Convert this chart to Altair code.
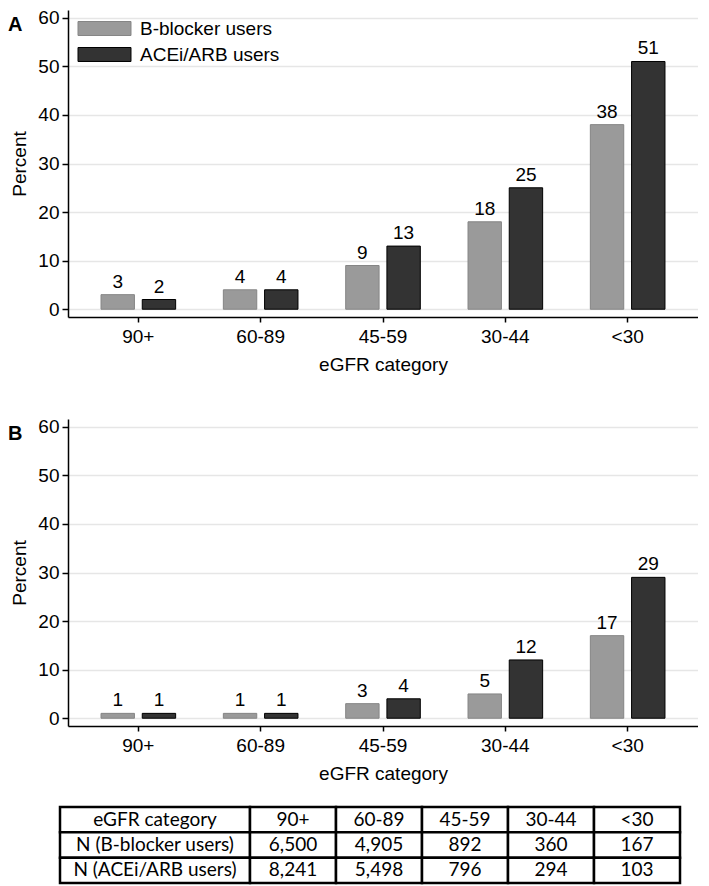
import altair as alt
import pandas as pd

categories = ["90+", "60-89", "45-59", "30-44", "<30"]
series = ["B-blocker users", "ACEi/ARB users"]
a_bblocker = [3, 4, 9, 18, 38]
a_acei = [2, 4, 13, 25, 51]
b_bblocker = [1, 1, 3, 5, 17]
b_acei = [1, 1, 4, 12, 29]
y_ticks = [0, 10, 20, 30, 40, 50, 60]
table_rows = ["eGFR category", "N (B-blocker users)", "N (ACEi/ARB users)"]
n_bblocker = ["6,500", "4,905", "892", "360", "167"]
n_acei = ["8,241", "5,498", "796", "294", "103"]

FONT = "Liberation Sans"
TFONT = "Lato"
W, H = 630, 307
GRAY, DARK = "#9a9a9a", "#333333"
SWATCH = "M-2.5,-0.66L2.5,-0.66L2.5,0.66L-2.5,0.66Z"


def panel(letter, bb, ace):
    df = pd.DataFrame({
        "cat": categories + categories,
        "series": [series[0]] * len(categories) + [series[1]] * len(categories),
        "value": bb + ace,
    })
    x = alt.X("cat:N", sort=categories, title="eGFR category",
              scale=alt.Scale(paddingInner=0.39, paddingOuter=0.27),
              axis=alt.Axis(labelAngle=0, tickSize=5, labelPadding=5,
                            titlePadding=9, grid=False))
    xo = alt.XOffset("series:N", sort=series,
                     scale=alt.Scale(paddingInner=0.19, paddingOuter=0))
    y = alt.Y("value:Q", title="Percent",
              scale=alt.Scale(domain=[-1.6, 61.6], nice=False, zero=False),
              axis=alt.Axis(values=y_ticks, tickSize=6, labelPadding=3,
                            titlePadding=8, grid=True))
    base = alt.Chart(df).encode(x=x, xOffset=xo, y=y)
    bars = base.mark_bar(strokeWidth=1).encode(
        y2=alt.datum(0),
        fill=alt.Fill("series:N", sort=series,
                      scale=alt.Scale(domain=series, range=[GRAY, DARK]),
                      legend=alt.Legend(title=None, orient="none", legendX=25,
                                        legendY=7, padding=0,
                                        symbolType=SWATCH, symbolSize=449,
                                        symbolStrokeWidth=1, rowPadding=4,
                                        labelOffset=24, labelFontSize=19,
                                        labelFont=FONT, labelColor="black")),
        stroke=alt.Stroke("series:N", sort=series,
                          scale=alt.Scale(domain=series, range=["#858585", "#000000"]),
                          legend=None),
    )
    labels = base.mark_text(baseline="bottom", dy=-3, fontSize=19, font=FONT,
                            color="black").encode(text="value:Q")
    tag = alt.Chart(pd.DataFrame({"t": [letter]})).mark_text(
        align="left", baseline="top", fontSize=20, fontWeight="bold",
        font=FONT, color="black").encode(text="t:N", x=alt.value(-60), y=alt.value(5))
    return alt.layer(bars, labels, tag).properties(width=W, height=H)


label_df = pd.DataFrame({"col": ["label"] * 3, "row": table_rows, "text": table_rows})
value_df = pd.DataFrame({
    "col": categories * 3,
    "row": [table_rows[0]] * 5 + [table_rows[1]] * 5 + [table_rows[2]] * 5,
    "text": categories + n_bblocker + n_acei,
})

T_LEFT, T_LABEL_W, T_VALUE_W, T_H = -8, 190, 430, 76
row_y = alt.Y("row:N", sort=table_rows, axis=None,
              scale=alt.Scale(paddingInner=0, paddingOuter=0))


def table_layers(df, sort, x0, x1):
    base = alt.Chart(df).encode(
        x=alt.X("col:N", sort=sort, axis=None,
                scale=alt.Scale(paddingInner=0, paddingOuter=0, range=[x0, x1])),
        y=row_y,
    )
    rect = base.mark_rect(fill="white", stroke="black", strokeWidth=2.5)
    txt = base.mark_text(font=TFONT, fontSize=19, color="black").encode(text="text:N")
    return alt.layer(rect, txt)


table = alt.layer(
    table_layers(label_df, ["label"], T_LEFT, T_LEFT + T_LABEL_W),
    table_layers(value_df, categories, T_LEFT + T_LABEL_W, T_LEFT + T_LABEL_W + T_VALUE_W),
).resolve_scale(x="independent").properties(
    width=T_LEFT + T_LABEL_W + T_VALUE_W, height=T_H)

panels = alt.vconcat(panel("A", a_bblocker, a_acei), panel("B", b_bblocker, b_acei),
                     spacing=43)

chart = alt.vconcat(panels, table, spacing=22).properties(
    padding=0, background="white"
).configure_view(stroke=None).configure_axis(
    domainColor="black", domainWidth=1.5, tickColor="black", tickWidth=1.5,
    labelFont=FONT, labelFontSize=19, labelColor="black",
    titleFont=FONT, titleFontSize=19, titleFontWeight="normal", titleColor="black",
    gridColor="#e6e6e6", gridWidth=1.5,
).configure_legend(labelFont=FONT, labelFontSize=19, labelColor="black")

chart.save("out.html", embed_options={"renderer": "svg", "actions": False})
